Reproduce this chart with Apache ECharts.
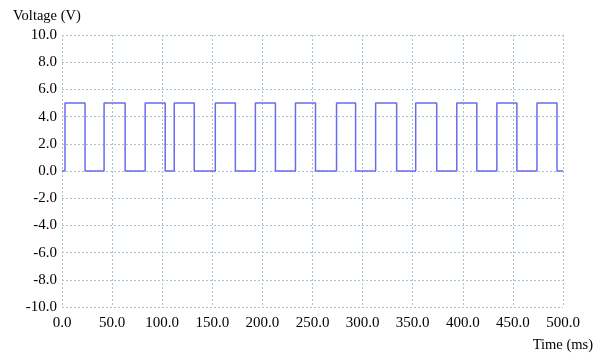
<!DOCTYPE html>
<html><head><meta charset="utf-8">
<script src="https://cdn.jsdelivr.net/npm/echarts@6/dist/echarts.min.js"></script>
<style>html,body{margin:0;padding:0;background:#fff}#c{width:602px;height:358px}</style>
</head><body><div id="c"></div>
<script>
var timeMs = [0,3,3,23,23,42,42,63,63,83,83,103,103,112,112,132,132,153,153,173,173,193,193,213,213,233,233,253,253,274,274,293,293,313,313,334,334,353,353,374,374,394,394,414,414,434,434,454,454,474,474,494,494,500];
var voltage = [0,0,5,5,0,0,5,5,0,0,5,5,0,0,5,5,0,0,5,5,0,0,5,5,0,0,5,5,0,0,5,5,0,0,5,5,0,0,5,5,0,0,5,5,0,0,5,5,0,0,5,5,0,0];
var xTitle = 'Time (ms)';
var yTitle = 'Voltage (V)';

var pts = timeMs.map(function(t,i){return [t, voltage[i]];});
var font = '"Liberation Serif", "Times New Roman", serif';
var grid = {lineStyle:{color:'#a6c4d4', type:[2,2], width:1}};
var chart = echarts.init(document.getElementById('c'), null, {renderer:'canvas'});
chart.setOption({
  animation:false,
  backgroundColor:'#fff',
  grid:{left:62, right:39, top:35, bottom:51, containLabel:false},
  title:[
    {text:yTitle, left:8, top:4, textStyle:{fontFamily:font, fontSize:14.5, fontWeight:'normal', color:'#000'}},
    {text:xTitle, right:4, top:333, textStyle:{fontFamily:font, fontSize:14.5, fontWeight:'normal', color:'#000'}}
  ],
  xAxis:{type:'value', min:0, max:500, interval:50,
    axisLine:{show:false, onZero:false}, axisTick:{show:false},
    axisLabel:{fontFamily:font, fontSize:15, color:'#000', margin:9, formatter:function(v){return v.toFixed(1);}},
    splitLine:grid},
  yAxis:{type:'value', min:-10, max:10, interval:2,
    axisLine:{show:false}, axisTick:{show:false},
    axisLabel:{fontFamily:font, fontSize:15, color:'#000', margin:5, formatter:function(v){return v.toFixed(1);}},
    splitLine:grid},
  series:[{type:'line', data:pts, showSymbol:false, symbol:'none',
    lineStyle:{color:'#6b6bf0', width:1.5}}]
});
</script></body></html>
